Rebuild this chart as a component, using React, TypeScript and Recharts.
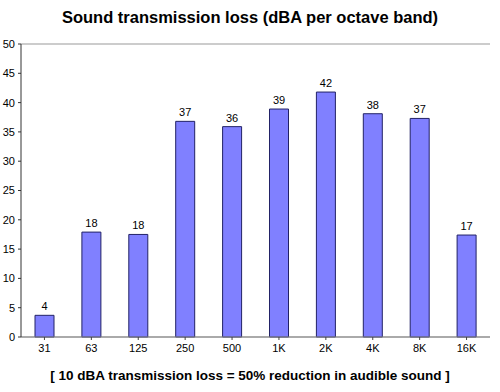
import React from 'react';
import { BarChart, Bar, XAxis, YAxis, CartesianGrid, LabelList } from 'recharts';

const bands = ['31', '63', '125', '250', '500', '1K', '2K', '4K', '8K', '16K'];
const loss = [3.7, 17.9, 17.5, 36.8, 35.9, 38.9, 41.8, 38.1, 37.3, 17.4];
const yTicks = [0, 5, 10, 15, 20, 25, 30, 35, 40, 45, 50];
const title = 'Sound transmission loss (dBA per octave band)';
const footer = '[ 10 dBA transmission loss = 50% reduction in audible sound ]';

const data = bands.map((b, i) => ({ band: b, loss: loss[i] }));

export default function App() {
  const font = '"Liberation Sans", Arial, sans-serif';
  return (
    <div style={{ position: 'absolute', left: 0, top: 0, width: 500, height: 392, background: '#fff', fontFamily: font }}>
      <div style={{ position: 'absolute', left: 0, top: 8, width: 500, textAlign: 'center', fontSize: 16.5, fontWeight: 'bold', color: '#000' }}>{title}</div>
      <BarChart width={500} height={392} data={data} margin={{ top: 44, right: 10, bottom: 0, left: 0 }} barCategoryGap={0}>
        <CartesianGrid horizontal vertical={false} stroke="#999" />
        <XAxis dataKey="band" height={55} tick={{ fontSize: 11, fill: '#000', fontFamily: font }} tickSize={3} tickMargin={4} axisLine={{ stroke: '#888' }} tickLine={{ stroke: '#444' }} interval={0} />
        <YAxis yAxisId="left" domain={[0, 50]} ticks={yTicks} width={21} tick={{ fontSize: 11, fill: '#000', fontFamily: font }} tickSize={3} tickMargin={3} axisLine={{ stroke: '#333' }} tickLine={{ stroke: '#333' }} interval={0} />
        <YAxis yAxisId="right" orientation="right" domain={[0, 50]} width={0} tick={false} tickLine={false} axisLine={{ stroke: '#999' }} />
        <Bar yAxisId="left" dataKey="loss" fill="#8080ff" stroke="#222266" strokeWidth={1} barSize={19} isAnimationActive={false}>
          <LabelList dataKey="loss" position="top" offset={5} formatter={(v: number) => Math.round(v)} style={{ fontSize: 11, fill: '#000', fontFamily: font }} />
        </Bar>
      </BarChart>
      <div style={{ position: 'absolute', left: 0, top: 368, width: 500, textAlign: 'center', fontSize: 13.5, fontWeight: 'bold', color: '#000' }}>{footer}</div>
    </div>
  );
}
